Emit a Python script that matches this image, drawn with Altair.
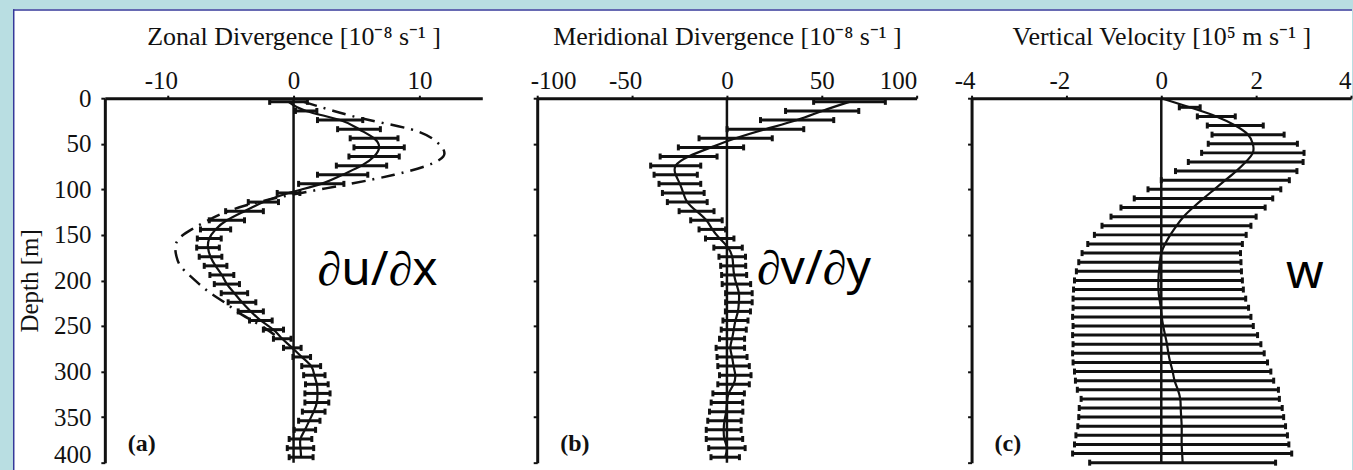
import altair as alt
import pandas as pd

SERIF = "Liberation Serif"
SANS = "Noto Sans"
INK = "#111111"
FRAME = "#35399a"
BACKDROP = "#b9dee2"

# ---- zonal and meridional divergence profiles (depth in m) ----
depth_uv = [4, 14, 24, 34, 44, 54, 64, 74, 84, 94,
            104, 114, 124, 134, 144, 154, 164, 174, 184, 194,
            204, 214, 224, 234, 244, 254, 264, 274, 284, 294,
            304, 314, 324, 334, 344, 354, 364, 374, 384, 394]

dudx_mean = [-0.4, 1.0, 3.7, 5.2, 6.4, 6.8, 6.4, 5.4, 3.9, 2.2,
             -0.4, -2.4, -3.9, -5.3, -6.2, -6.7, -6.8, -6.6, -6.2, -5.7,
             -5.3, -4.7, -4.1, -3.4, -2.6, -1.6, -0.9, -0.1, 0.65, 1.4,
             1.65, 1.85, 1.9, 1.85, 1.6, 1.25, 0.9, 0.55, 0.55, 0.6]
dudx_err = [1.5, 0.85, 1.8, 1.7, 1.9, 2.0, 2.0, 2.0, 2.0, 1.8,
            0.9, 1.2, 1.5, 1.4, 1.2, 0.95, 0.9, 0.9, 0.9, 0.95,
            1.0, 1.05, 1.1, 1.0, 0.9, 0.8, 0.7, 0.7, 0.7, 0.75,
            0.85, 0.9, 1.0, 0.95, 0.9, 0.85, 0.85, 0.9, 1.05, 0.95]

# second zonal estimate (dash-dot)
depth_alt = [4, 14, 24, 34, 44, 54, 64, 74, 84, 94,
             104, 114, 124, 134, 144, 154, 164, 174, 184, 194,
             204, 214, 224, 234, 244, 254, 264]
dudx_alt = [0.8, 3.2, 6.0, 9.3, 11.0, 11.8, 11.9, 10.6, 8.0, 4.5,
            0.6, -2.8, -5.2, -6.8, -8.1, -9.1, -9.4, -9.3, -9.0, -8.3,
            -7.5, -6.6, -5.5, -4.5, -3.3, -2.1, -1.1]

dvdy_mean = [64.6, 50.2, 37.0, 20.3, 4.6, -8.4, -20.2, -27.0, -27.0, -24.8,
             -23.0, -20.9, -16.0, -10.8, -7.7, -3.8, 0.6, 2.8, 3.3, 3.8,
             5.0, 6.3, 6.3, 5.8, 4.5, 3.6, 2.7, 1.8, 2.7, 3.5,
             4.4, 3.5, 0.9, 0.0, -0.4, -1.3, -1.7, -1.3, 0.0, -0.9]
dvdy_err = [18.9, 19.3, 19.3, 20.2, 19.3, 17.2, 15.0, 13.2, 11.4, 11.0,
            11.0, 10.5, 9.2, 8.3, 7.0, 7.5, 7.5, 7.0, 6.6, 6.6,
            7.5, 7.0, 7.0, 6.6, 6.6, 6.6, 6.6, 7.5, 7.9, 8.3,
            8.3, 8.3, 8.3, 8.3, 8.8, 8.8, 9.2, 9.6, 9.6, 7.5]

# ---- vertical velocity profile ----
depth_w = [10, 20, 30, 40, 50, 60, 70, 80, 90, 100,
           110, 120, 130, 140, 150, 160, 170, 180, 190, 200,
           210, 220, 230, 240, 250, 260, 270, 280, 290, 300,
           310, 320, 330, 340, 350, 360, 370, 380, 390, 400]
w_mean = [0.6, 1.16, 1.56, 1.83, 1.93, 1.93, 1.78, 1.58, 1.35, 1.12,
          0.89, 0.67, 0.47, 0.32, 0.19, 0.08, 0.0, -0.03, -0.05, -0.06,
          -0.06, -0.04, -0.01, 0.01, 0.04, 0.08, 0.12, 0.15, 0.19, 0.24,
          0.28, 0.35, 0.40, 0.41, 0.42, 0.43, 0.43, 0.43, 0.44, 0.45]
w_err = [0.22, 0.4, 0.59, 0.76, 0.94, 1.08, 1.21, 1.28, 1.35, 1.40,
         1.46, 1.52, 1.53, 1.57, 1.60, 1.63, 1.67, 1.71, 1.74, 1.77,
         1.79, 1.82, 1.85, 1.88, 1.90, 1.95, 1.98, 2.02, 2.05, 2.07,
         2.09, 2.12, 2.09, 2.14, 2.16, 2.19, 2.23, 2.26, 2.31, 1.96]

depth_ticks = [0, 50, 100, 150, 200, 250, 300, 350, 400]
x_titles = ["Zonal Divergence [10\u207b\u2078  s\u207b\u00b9 ]",
            "Meridional Divergence [10\u207b\u2078  s\u207b\u00b9 ]",
            "Vertical Velocity [10\u2075  m s\u207b\u00b9 ]"]
x_domains = [[-15, 15], [-100, 100], [-4, 4]]
x_ticks = [[-10, 0, 10], [-100, -50, 0, 50, 100], [-4, -2, 0, 2, 4]]
panel_tags = ["(a)", "(b)", "(c)"]
symbols = ["\u2202u/\u2202x", "\u2202v/\u2202y", "w"]

PANEL_W = [378, 380, 380]
PANEL_H = 365
LABEL_SIZE = 25
TITLE_SIZE = 26


def x_axis(i):
    kw = dict(orient="top", values=x_ticks[i], title=x_titles[i], grid=False,
              domainWidth=3, domainColor=INK, tickColor=INK, tickWidth=2,
              tickSize=3, labelPadding=2, labelFont=SERIF,
              labelFontSize=LABEL_SIZE, labelColor=INK,
              labelExpr="'' + datum.value",
              labelOffset={"condition": {"test": "datum.value < 0", "value": -7},
                           "value": 0},
              titleFont=SERIF, titleFontSize=TITLE_SIZE, titleFontWeight="normal",
              titleColor=INK, titleBaseline="alphabetic", titleY=-53.5,
              zindex=1)
    if i == 2:
        kw["labelAlign"] = {"condition": {"test": "datum.value >= 4", "value": "right"},
                            "value": "center"}
    return alt.Axis(**kw)


def y_axis(i):
    if i == 0:
        return alt.Axis(orient="left", values=depth_ticks, title="Depth [m]",
                        grid=False, domainWidth=3, domainColor=INK,
                        tickColor=INK, tickWidth=2, tickSize=4, labelPadding=10,
                        labelFont=SERIF, labelFontSize=LABEL_SIZE, labelColor=INK,
                        labelBaseline={"condition": {"test": "datum.value >= 400",
                                                     "value": "alphabetic"},
                                       "value": "middle"},
                        titleFont=SERIF, titleFontSize=LABEL_SIZE,
                        titleFontWeight="normal", titleColor=INK,
                        titleBaseline="alphabetic", titleX=-67, zindex=1)
    return alt.Axis(orient="left", values=depth_ticks, title=None, labels=False,
                    grid=False, domainWidth=3, domainColor=INK, tickColor=INK,
                    tickWidth=2, tickSize=4, zindex=1)


def xe(field, i):
    return alt.X(field, type="quantitative",
                 scale=alt.Scale(domain=x_domains[i], nice=False, zero=False),
                 axis=x_axis(i))


def ye(field, i):
    return alt.Y(field, type="quantitative",
                 scale=alt.Scale(domain=[0, 400], reverse=True, nice=False, zero=False),
                 axis=y_axis(i))


def make_panel(i, depth, mean, err, line_depth, line_mean, sym_xy, extra=()):
    bars = pd.DataFrame({"depth": depth, "mean": mean, "err": err})
    bars["lo"] = bars["mean"] - bars["err"]
    bars["hi"] = bars["mean"] + bars["err"]
    caps = pd.DataFrame({"depth": list(depth) * 2,
                         "v": list(bars["lo"]) + list(bars["hi"])})
    prof = pd.DataFrame({"depth": line_depth, "mean": line_mean})
    zero = pd.DataFrame({"zero": [0], "top": [0], "bottom": [400]})
    one = pd.DataFrame({"k": [0]})

    zero_line = alt.Chart(zero).mark_rule(color=INK, strokeWidth=2.5).encode(
        x=xe("zero", i), y=ye("top", i), y2=alt.Y2("bottom"))
    err_bars = alt.Chart(bars).mark_rule(color=INK, strokeWidth=3).encode(
        x=xe("lo", i), x2=alt.X2("hi"), y=ye("depth", i))
    err_caps = alt.Chart(caps).mark_tick(orient="vertical", color=INK, size=6,
                                         thickness=3, opacity=1).encode(
        x=xe("v", i), y=ye("depth", i))
    mean_line = alt.Chart(prof).mark_line(color=INK, strokeWidth=2.2,
                                          interpolate="natural").encode(
        x=xe("mean", i), y=ye("depth", i), order=alt.Order("depth:Q"))
    tag = alt.Chart(one).mark_text(text=panel_tags[i], font=SERIF, fontSize=24,
                                   fontWeight="bold", color=INK, align="left",
                                   baseline="middle").encode(
        x=alt.value(23), y=alt.value(346))
    sym = alt.Chart(one).mark_text(text=symbols[i], font=SANS, fontSize=48,
                                   color="black", align="left",
                                   baseline="alphabetic").encode(
        x=alt.value(sym_xy[0]), y=alt.value(sym_xy[1]))
    layers = list(extra) + [zero_line, err_bars, err_caps, mean_line, tag, sym]
    return alt.layer(*layers).properties(width=PANEL_W[i], height=PANEL_H)


one_row = pd.DataFrame({"k": [0]})
# white page behind all three panels, with a thin framing line on top and left
sheet = alt.Chart(one_row).mark_rect(color="white").encode(
    x=alt.value(-92), x2=alt.value(1249), y=alt.value(-89), y2=alt.value(373))
frame_left = alt.Chart(one_row).mark_rule(color=FRAME, strokeWidth=1.5).encode(
    x=alt.value(-91.25), y=alt.value(-89), y2=alt.value(373))
frame_top = alt.Chart(one_row).mark_rule(color=FRAME, strokeWidth=1.5).encode(
    x=alt.value(-92), x2=alt.value(1249), y=alt.value(-88.25))

alt_prof = pd.DataFrame({"depth": depth_alt, "val": dudx_alt})
dashdot = alt.Chart(alt_prof).mark_line(color=INK, strokeWidth=2.5,
                                        strokeDash=[14, 7, 2, 7],
                                        interpolate="natural").encode(
    x=xe("val", 0), y=ye("depth", 0), order=alt.Order("depth:Q"))

panel_a = make_panel(0, depth_uv, dudx_mean, dudx_err, depth_uv, dudx_mean,
                     (213, 187), extra=(sheet, frame_left, frame_top, dashdot))
panel_b = make_panel(1, depth_uv, dvdy_mean, dvdy_err, depth_uv, dvdy_mean,
                     (220, 186))
panel_c = make_panel(2, depth_w, w_mean, w_err, [0] + depth_w, [0.0] + w_mean,
                     (315, 190))

chart = alt.hconcat(panel_a, panel_b, panel_c, spacing=55, bounds="flush").properties(
    background=BACKDROP,
    padding={"left": 12, "top": 8, "right": 0, "bottom": 0},
).configure_view(strokeWidth=0)

chart.save("out.html", embed_options={"renderer": "svg", "actions": False})
